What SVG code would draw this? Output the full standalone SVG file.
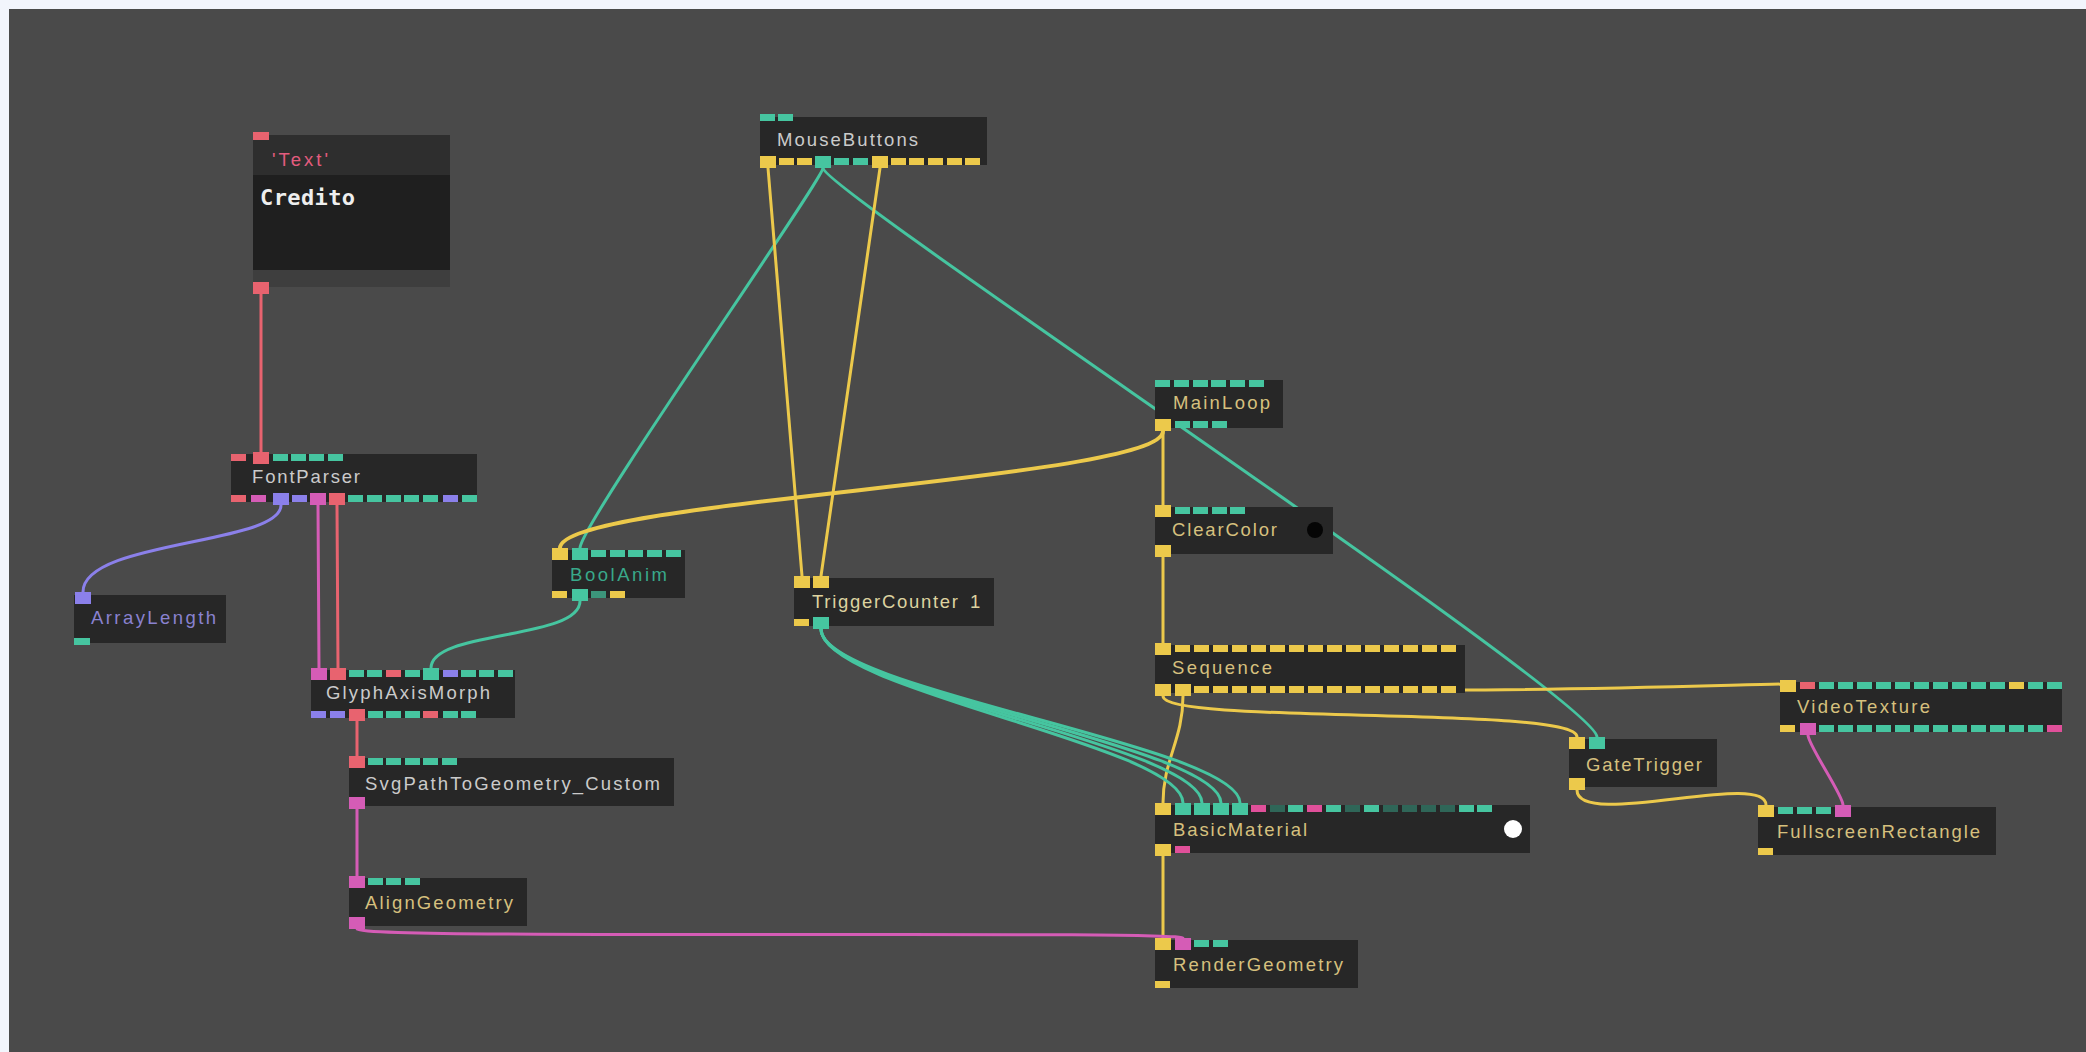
<svg xmlns="http://www.w3.org/2000/svg" width="2086" height="1052" viewBox="0 0 2086 1052">
<style>
.n{fill:#272727}
.y{fill:#ecc94b}.t{fill:#46c5a0}.r{fill:#e8636f}.m{fill:#d55cb6}.p{fill:#8b80ea}.d{fill:#2f6658}.k{fill:#e0509a}
.lbl{font-family:"Liberation Sans","Open Sans",sans-serif;font-size:18.5px}
.g{fill:#cbcbcb}.o{fill:#d6c07e}
.c{fill:none;stroke-width:3;stroke-linecap:round}
.cy{stroke:#ecc94b}.ct{stroke:#46c5a0}.cr{stroke:#e8636f}.cm{stroke:#d55cb6}.cp{stroke:#8b80ea}
</style>
<rect x="0" y="0" width="2086" height="1052" fill="#f2f5fc"/>
<rect x="9" y="9" width="2077" height="1043" fill="#4a4a4a"/>

<g id="connectors">
<path class="c cr" d="M261 294 L261 452"/>
<path class="c cp" d="M281 505 C281 545 83 540 83 592"/>
<path class="c cm" d="M318 505 L319 668"/>
<path class="c cr" d="M337 505 L338 668"/>
<path class="c ct" d="M580 601 C580 640 431 630 431 668"/>
<path class="c ct" d="M823 168 C823 180 580 525 580 548"/>
<path class="c ct" d="M823 168 C823 190 1597 700 1597 737"/>
<path class="c cy" d="M768 168 L802 576"/>
<path class="c cy" d="M880 168 L821 576"/>
<path class="c cy" style="stroke-width:4" d="M1163 431 C1163 480 560 500 560 548"/>
<path class="c cy" d="M1163 431 L1163 505"/>
<path class="c cy" d="M1163 557 L1163 643"/>
<path class="c cy" d="M1163 696 C1163 725 1577 705 1577 737"/>
<path class="c cy" d="M1183 696 C1183 740 1163 760 1163 803"/>
<path class="c cy" d="M1448 690 C1600 690 1760 684 1788 684"/>
<path class="c ct" d="M821 629 C821 690 1183 745 1183 803"/>
<path class="c ct" d="M821 629 C821 690 1202 745 1202 803"/>
<path class="c ct" d="M821 629 C821 690 1221 745 1221 803"/>
<path class="c ct" d="M821 629 C821 690 1240 745 1240 803"/>
<path class="c cy" d="M1163 856 L1163 938"/>
<path class="c cm" d="M357 929 C357 940 1183 930 1183 938"/>
<path class="c cm" d="M357 809 L357 876"/>
<path class="c cr" d="M357 721 L357 756"/>
<path class="c cy" d="M1577 790 C1577 830 1766 770 1766 805"/>
<path class="c cm" d="M1808 735 C1808 745 1843 795 1843 805"/>
</g>

<g id="node-text">
<rect x="253" y="135" width="197" height="40" fill="#2e2e2e"/>
<rect x="253" y="175" width="197" height="95" fill="#1f1f1f"/>
<rect x="253" y="270" width="197" height="17" fill="#3e3e3e"/>
<rect class="r" x="253" y="132" width="16" height="8"/>
<rect class="r" x="253" y="282" width="16" height="12"/>
<text class="lbl" x="272" y="166" font-size="15" fill="#e35c7e" textLength="56">'Text'</text>
<text x="260" y="205" font-family="'DejaVu Sans Mono','Liberation Mono',monospace" font-size="22" font-weight="bold" fill="#eeeeee" textLength="95">Credito</text>
</g>

<g id="node-fontparser">
<rect class="n" x="231" y="454" width="246" height="48"/>
<rect class="r" x="231" y="454" width="15" height="7"/>
<rect class="r" x="253" y="452" width="16" height="12"/>
<rect class="t" x="273" y="454" width="15" height="7"/>
<rect class="t" x="291" y="454" width="15" height="7"/>
<rect class="t" x="309" y="454" width="15" height="7"/>
<rect class="t" x="328" y="454" width="15" height="7"/>
<rect class="r" x="231" y="495" width="15" height="7"/>
<rect class="m" x="251" y="495" width="15" height="7"/>
<rect class="p" x="273" y="493" width="16" height="12"/>
<rect class="p" x="292" y="495" width="15" height="7"/>
<rect class="m" x="310" y="493" width="16" height="12"/>
<rect class="r" x="329" y="493" width="16" height="12"/>
<rect class="t" x="348" y="495" width="15" height="7"/>
<rect class="t" x="367" y="495" width="15" height="7"/>
<rect class="t" x="386" y="495" width="15" height="7"/>
<rect class="t" x="404" y="495" width="15" height="7"/>
<rect class="t" x="423" y="495" width="15" height="7"/>
<rect class="p" x="443" y="495" width="15" height="7"/>
<rect class="t" x="462" y="495" width="15" height="7"/>
<text class="lbl g" x="252" y="483" textLength="108">FontParser</text>
</g>

<g id="node-arraylength">
<rect class="n" x="74" y="595" width="152" height="48"/>
<rect class="p" x="75" y="592" width="16" height="12"/>
<rect class="t" x="74" y="638" width="16" height="7"/>
<text class="lbl" x="91" y="624" fill="#8a82d0" textLength="125">ArrayLength</text>
</g>

<g id="node-glyphaxismorph">
<rect class="n" x="311" y="670" width="204" height="48"/>
<rect class="m" x="311" y="668" width="16" height="12"/>
<rect class="r" x="330" y="668" width="16" height="12"/>
<rect class="t" x="349" y="670" width="15" height="7"/>
<rect class="t" x="367" y="670" width="15" height="7"/>
<rect class="r" x="386" y="670" width="15" height="7"/>
<rect class="t" x="405" y="670" width="15" height="7"/>
<rect class="t" x="423" y="668" width="16" height="12"/>
<rect class="p" x="443" y="670" width="15" height="7"/>
<rect class="t" x="461" y="670" width="15" height="7"/>
<rect class="t" x="479" y="670" width="15" height="7"/>
<rect class="t" x="498" y="670" width="15" height="7"/>
<rect class="p" x="311" y="711" width="15" height="7"/>
<rect class="p" x="330" y="711" width="15" height="7"/>
<rect class="r" x="349" y="709" width="16" height="12"/>
<rect class="t" x="368" y="711" width="15" height="7"/>
<rect class="t" x="386" y="711" width="15" height="7"/>
<rect class="t" x="405" y="711" width="15" height="7"/>
<rect class="r" x="423" y="711" width="15" height="7"/>
<rect class="t" x="443" y="711" width="15" height="7"/>
<rect class="t" x="461" y="711" width="15" height="7"/>
<text class="lbl g" x="326" y="699" textLength="164">GlyphAxisMorph</text>
</g>

<g id="node-svgpath">
<rect class="n" x="349" y="758" width="325" height="48"/>
<rect class="r" x="349" y="756" width="16" height="12"/>
<rect class="t" x="368" y="758" width="15" height="7"/>
<rect class="t" x="386" y="758" width="15" height="7"/>
<rect class="t" x="405" y="758" width="15" height="7"/>
<rect class="t" x="423" y="758" width="15" height="7"/>
<rect class="t" x="442" y="758" width="15" height="7"/>
<rect class="m" x="349" y="797" width="16" height="12"/>
<text class="lbl g" x="365" y="790" textLength="295">SvgPathToGeometry_Custom</text>
</g>

<g id="node-aligngeometry">
<rect class="n" x="349" y="878" width="178" height="48"/>
<rect class="m" x="349" y="876" width="16" height="12"/>
<rect class="t" x="368" y="878" width="15" height="7"/>
<rect class="t" x="386" y="878" width="15" height="7"/>
<rect class="t" x="405" y="878" width="15" height="7"/>
<rect class="m" x="349" y="917" width="16" height="12"/>
<text class="lbl o" x="365" y="909" textLength="148">AlignGeometry</text>
</g>

<g id="node-boolanim">
<rect class="n" x="552" y="550" width="133" height="48"/>
<rect class="y" x="552" y="548" width="16" height="12"/>
<rect class="t" x="572" y="548" width="16" height="12"/>
<rect class="t" x="591" y="550" width="15" height="7"/>
<rect class="t" x="610" y="550" width="15" height="7"/>
<rect class="t" x="628" y="550" width="15" height="7"/>
<rect class="t" x="647" y="550" width="15" height="7"/>
<rect class="t" x="666" y="550" width="15" height="7"/>
<rect class="y" x="552" y="591" width="15" height="7"/>
<rect class="t" x="572" y="589" width="16" height="12"/>
<rect class="t" x="591" y="591" width="15" height="7" opacity="0.7"/>
<rect class="y" x="610" y="591" width="15" height="7"/>
<text class="lbl" x="570" y="581" fill="#39a98a" textLength="97">BoolAnim</text>
</g>

<g id="node-mousebuttons">
<rect class="n" x="760" y="117" width="227" height="48"/>
<rect class="t" x="760" y="114" width="15" height="7"/>
<rect class="t" x="778" y="114" width="15" height="7"/>
<rect class="y" x="760" y="156" width="16" height="12"/>
<rect class="y" x="779" y="158" width="15" height="7"/>
<rect class="y" x="797" y="158" width="15" height="7"/>
<rect class="t" x="815" y="156" width="16" height="12"/>
<rect class="t" x="834" y="158" width="15" height="7"/>
<rect class="t" x="853" y="158" width="15" height="7"/>
<rect class="y" x="872" y="156" width="16" height="12"/>
<rect class="y" x="891" y="158" width="15" height="7"/>
<rect class="y" x="909" y="158" width="15" height="7"/>
<rect class="y" x="928" y="158" width="15" height="7"/>
<rect class="y" x="947" y="158" width="15" height="7"/>
<rect class="y" x="965" y="158" width="15" height="7"/>
<text class="lbl g" x="777" y="146" textLength="141">MouseButtons</text>
</g>

<g id="node-triggercounter">
<rect class="n" x="794" y="578" width="200" height="48"/>
<rect class="y" x="794" y="576" width="16" height="12"/>
<rect class="y" x="813" y="576" width="16" height="12"/>
<rect class="y" x="794" y="619" width="15" height="7"/>
<rect class="t" x="813" y="617" width="16" height="12"/>
<text class="lbl" x="812" y="608" fill="#ddd3a0" textLength="146">TriggerCounter</text>
<text class="lbl" x="970" y="608" fill="#ddd3a0">1</text>
</g>

<g id="node-mainloop">
<rect class="n" x="1155" y="380" width="128" height="48"/>
<rect class="t" x="1155" y="380" width="15" height="7"/>
<rect class="t" x="1174" y="380" width="15" height="7"/>
<rect class="t" x="1193" y="380" width="15" height="7"/>
<rect class="t" x="1211" y="380" width="15" height="7"/>
<rect class="t" x="1230" y="380" width="15" height="7"/>
<rect class="t" x="1249" y="380" width="15" height="7"/>
<rect class="y" x="1155" y="419" width="16" height="12"/>
<rect class="t" x="1175" y="421" width="15" height="7"/>
<rect class="t" x="1193" y="421" width="15" height="7"/>
<rect class="t" x="1212" y="421" width="15" height="7"/>
<text class="lbl o" x="1173" y="409" textLength="97">MainLoop</text>
</g>

<g id="node-clearcolor">
<rect class="n" x="1155" y="507" width="178" height="47"/>
<rect class="y" x="1155" y="505" width="16" height="12"/>
<rect class="t" x="1175" y="507" width="15" height="7"/>
<rect class="t" x="1193" y="507" width="15" height="7"/>
<rect class="t" x="1212" y="507" width="15" height="7"/>
<rect class="t" x="1230" y="507" width="15" height="7"/>
<rect class="y" x="1155" y="545" width="16" height="12"/>
<circle cx="1315" cy="530" r="8" fill="#050505"/>
<text class="lbl o" x="1172" y="536" textLength="105">ClearColor</text>
</g>

<g id="node-sequence">
<rect class="n" x="1155" y="645" width="310" height="48"/>
<rect class="y" x="1155" y="643" width="16" height="12"/>
<rect class="y" x="1175" y="645" width="15" height="7"/>
<rect class="y" x="1194" y="645" width="15" height="7"/>
<rect class="y" x="1213" y="645" width="15" height="7"/>
<rect class="y" x="1232" y="645" width="15" height="7"/>
<rect class="y" x="1251" y="645" width="15" height="7"/>
<rect class="y" x="1270" y="645" width="15" height="7"/>
<rect class="y" x="1289" y="645" width="15" height="7"/>
<rect class="y" x="1308" y="645" width="15" height="7"/>
<rect class="y" x="1327" y="645" width="15" height="7"/>
<rect class="y" x="1346" y="645" width="15" height="7"/>
<rect class="y" x="1365" y="645" width="15" height="7"/>
<rect class="y" x="1384" y="645" width="15" height="7"/>
<rect class="y" x="1403" y="645" width="15" height="7"/>
<rect class="y" x="1422" y="645" width="15" height="7"/>
<rect class="y" x="1441" y="645" width="15" height="7"/>
<rect class="y" x="1155" y="684" width="16" height="12"/>
<rect class="y" x="1175" y="684" width="16" height="12"/>
<rect class="y" x="1194" y="686" width="15" height="7"/>
<rect class="y" x="1213" y="686" width="15" height="7"/>
<rect class="y" x="1232" y="686" width="15" height="7"/>
<rect class="y" x="1251" y="686" width="15" height="7"/>
<rect class="y" x="1270" y="686" width="15" height="7"/>
<rect class="y" x="1289" y="686" width="15" height="7"/>
<rect class="y" x="1308" y="686" width="15" height="7"/>
<rect class="y" x="1327" y="686" width="15" height="7"/>
<rect class="y" x="1346" y="686" width="15" height="7"/>
<rect class="y" x="1365" y="686" width="15" height="7"/>
<rect class="y" x="1384" y="686" width="15" height="7"/>
<rect class="y" x="1403" y="686" width="15" height="7"/>
<rect class="y" x="1422" y="686" width="15" height="7"/>
<rect class="y" x="1441" y="686" width="15" height="7"/>
<text class="lbl o" x="1172" y="674" textLength="100">Sequence</text>
</g>

<g id="node-basicmaterial">
<rect class="n" x="1155" y="805" width="375" height="48"/>
<rect class="y" x="1155" y="803" width="16" height="12"/>
<rect class="t" x="1175" y="803" width="16" height="12"/>
<rect class="t" x="1194" y="803" width="16" height="12"/>
<rect class="t" x="1213" y="803" width="16" height="12"/>
<rect class="t" x="1232" y="803" width="16" height="12"/>
<rect class="k" x="1251" y="805" width="15" height="7"/>
<rect class="d" x="1270" y="805" width="15" height="7"/>
<rect class="t" x="1288" y="805" width="15" height="7"/>
<rect class="k" x="1307" y="805" width="15" height="7"/>
<rect class="t" x="1326" y="805" width="15" height="7"/>
<rect class="d" x="1345" y="805" width="15" height="7"/>
<rect class="t" x="1364" y="805" width="15" height="7"/>
<rect class="d" x="1383" y="805" width="15" height="7"/>
<rect class="d" x="1402" y="805" width="15" height="7"/>
<rect class="d" x="1421" y="805" width="15" height="7"/>
<rect class="d" x="1440" y="805" width="15" height="7"/>
<rect class="t" x="1459" y="805" width="15" height="7"/>
<rect class="t" x="1477" y="805" width="15" height="7"/>
<rect class="y" x="1155" y="844" width="16" height="12"/>
<rect class="k" x="1175" y="846" width="15" height="7"/>
<circle cx="1513" cy="829" r="9" fill="#ffffff"/>
<text class="lbl o" x="1173" y="836" textLength="134">BasicMaterial</text>
</g>

<g id="node-rendergeometry">
<rect class="n" x="1155" y="940" width="203" height="48"/>
<rect class="y" x="1155" y="938" width="16" height="12"/>
<rect class="m" x="1175" y="938" width="16" height="12"/>
<rect class="t" x="1194" y="940" width="15" height="7"/>
<rect class="t" x="1213" y="940" width="15" height="7"/>
<rect class="y" x="1155" y="981" width="15" height="7"/>
<text class="lbl o" x="1173" y="971" textLength="170">RenderGeometry</text>
</g>

<g id="node-gatetrigger">
<rect class="n" x="1569" y="739" width="148" height="48"/>
<rect class="y" x="1569" y="737" width="16" height="12"/>
<rect class="t" x="1589" y="737" width="16" height="12"/>
<rect class="y" x="1569" y="778" width="16" height="12"/>
<text class="lbl o" x="1586" y="771" textLength="116">GateTrigger</text>
</g>

<g id="node-videotexture">
<rect class="n" x="1780" y="682" width="282" height="50"/>
<rect class="y" x="1780" y="680" width="16" height="12"/>
<rect class="r" x="1800" y="682" width="15" height="7"/>
<rect class="t" x="1819" y="682" width="15" height="7"/>
<rect class="t" x="1838" y="682" width="15" height="7"/>
<rect class="t" x="1857" y="682" width="15" height="7"/>
<rect class="t" x="1876" y="682" width="15" height="7"/>
<rect class="t" x="1895" y="682" width="15" height="7"/>
<rect class="t" x="1914" y="682" width="15" height="7"/>
<rect class="t" x="1933" y="682" width="15" height="7"/>
<rect class="t" x="1952" y="682" width="15" height="7"/>
<rect class="t" x="1971" y="682" width="15" height="7"/>
<rect class="t" x="1990" y="682" width="15" height="7"/>
<rect class="y" x="2009" y="682" width="15" height="7"/>
<rect class="t" x="2028" y="682" width="15" height="7"/>
<rect class="t" x="2047" y="682" width="15" height="7"/>
<rect class="y" x="1780" y="725" width="15" height="7"/>
<rect class="m" x="1800" y="723" width="16" height="12"/>
<rect class="t" x="1819" y="725" width="15" height="7"/>
<rect class="t" x="1838" y="725" width="15" height="7"/>
<rect class="t" x="1857" y="725" width="15" height="7"/>
<rect class="t" x="1876" y="725" width="15" height="7"/>
<rect class="t" x="1895" y="725" width="15" height="7"/>
<rect class="t" x="1914" y="725" width="15" height="7"/>
<rect class="t" x="1933" y="725" width="15" height="7"/>
<rect class="t" x="1952" y="725" width="15" height="7"/>
<rect class="t" x="1971" y="725" width="15" height="7"/>
<rect class="t" x="1990" y="725" width="15" height="7"/>
<rect class="t" x="2009" y="725" width="15" height="7"/>
<rect class="t" x="2028" y="725" width="15" height="7"/>
<rect class="k" x="2047" y="725" width="15" height="7"/>
<text class="lbl o" x="1797" y="713" textLength="133">VideoTexture</text>
</g>

<g id="node-fullscreenrectangle">
<rect class="n" x="1758" y="807" width="238" height="48"/>
<rect class="y" x="1758" y="805" width="16" height="12"/>
<rect class="t" x="1778" y="807" width="15" height="7"/>
<rect class="t" x="1797" y="807" width="15" height="7"/>
<rect class="t" x="1816" y="807" width="15" height="7"/>
<rect class="m" x="1835" y="805" width="16" height="12"/>
<rect class="y" x="1758" y="848" width="15" height="7"/>
<text class="lbl o" x="1777" y="838" textLength="203">FullscreenRectangle</text>
</g>
</svg>
